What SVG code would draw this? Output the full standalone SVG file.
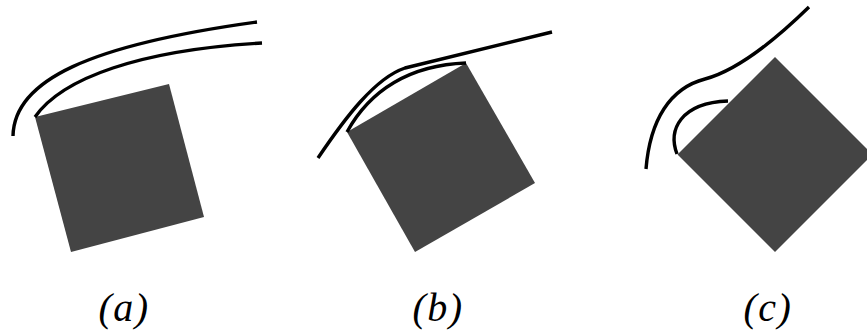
<svg xmlns="http://www.w3.org/2000/svg" width="867" height="334" viewBox="0 0 867 334">
<style>
.sq{fill:#444444;stroke:none}
.ln{fill:none;stroke:#000;stroke-width:3.4;stroke-linecap:butt}
.lb{font-family:"Liberation Serif",serif;font-style:italic;font-size:40px;fill:#000;text-anchor:middle;letter-spacing:1.5px}
</style>
<rect width="867" height="334" fill="#fff"/>
<g id="panel-a">
<polygon class="sq" points="35,117 169,84 204,217 71,252"/>
</g>
<g id="panel-b">
<polygon class="sq" points="347,132 466,63 535,183 415,252"/>
</g>
<g id="panel-c">
<polygon class="sq" points="775,57 872.5,154.5 775,252 677.5,154.5"/>
</g>
<g id="connectors">
<path class="ln" d="M13,136 C14,80 90,45 257,22"/>
<path class="ln" d="M35,117 C62,78 140,50 262,43"/>
<path class="ln" d="M318,158 C345,118 375,78 405,68 L552,32"/>
<path class="ln" d="M347,132 C370,90 410,65 466,63"/>
<path class="ln" d="M646,169 C650,120 670,88 705,79 C735,71 770,45 809,7"/>
<path class="ln" d="M677,154 C668,130 680,103 728,101"/>
</g>
<g id="labels">
<text class="lb" x="124" y="321">(a)</text>
<text class="lb" x="438" y="321">(b)</text>
<text class="lb" x="768" y="321">(c)</text>
</g>
</svg>
